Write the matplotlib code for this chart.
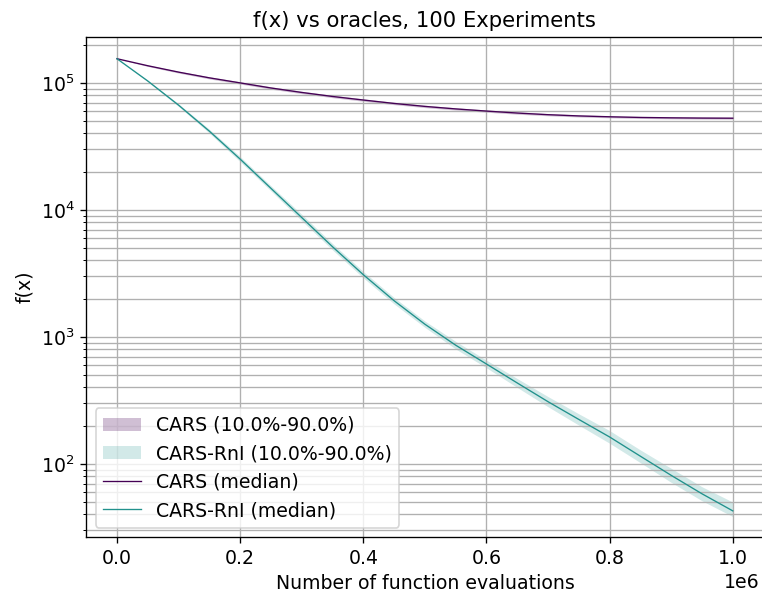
import numpy as np
import matplotlib
matplotlib.use('Agg')
import matplotlib.pyplot as plt

# function evaluations (sampled every 50k)
evals = [0, 50000, 100000, 150000, 200000, 250000, 300000, 350000, 400000, 450000, 500000,
         550000, 600000, 650000, 700000, 750000, 800000, 850000, 900000, 950000, 1000000]

# CARS: median and 10/90 percentiles of f(x)
cars_med = [155000, 136500, 121600, 109600, 100000, 91200, 84100, 78200, 73300, 68900, 65300,
            62400, 60000, 57900, 56200, 54950, 54100, 53460, 53090, 52840, 52720]
cars_lo = [155000, 134800, 119500, 107500, 98000, 89300, 82300, 76500, 71700, 67400, 63900,
           61100, 58800, 56700, 55100, 53900, 53100, 52500, 52100, 51900, 51800]
cars_hi = [155000, 138200, 123600, 111700, 102000, 93100, 85900, 79900, 74900, 70400, 66700,
           63700, 61200, 59100, 57300, 56000, 55100, 54400, 54000, 53800, 53700]

# CARS-RnI: median and 10/90 percentiles of f(x)
rni_med = [155000, 103500, 66830, 41690, 25120, 14790, 8710, 5129, 3090, 1928, 1259,
           861, 612, 434, 309, 224, 163, 115, 81.3, 58.2, 42.7]
rni_lo = [155000, 102300, 65310, 40270, 23990, 14130, 8222, 4842, 2917, 1820, 1189,
          804, 571, 400, 282, 202, 145.5, 102.3, 71.6, 51.3, 38.5]
rni_hi = [155000, 104700, 68390, 43150, 26300, 15490, 9226, 5433, 3273, 2042, 1334,
          923, 656, 470, 339, 248, 183, 128.8, 92.3, 66.1, 50.1]

c_cars = plt.cm.viridis(0.0)
c_rni = plt.cm.viridis(0.5)

plt.rcParams['font.size'] = 11.3

fig = plt.figure(figsize=(762/120, 596/120), dpi=120)
ax = fig.add_axes([0.1131, 0.099, 0.889, 0.839])

ax.fill_between(evals, cars_lo, cars_hi, color=c_cars, alpha=0.25, linewidth=0,
                label='CARS (10.0%-90.0%)')
ax.fill_between(evals, rni_lo, rni_hi, color=c_rni, alpha=0.2, linewidth=0,
                label='CARS-RnI (10.0%-90.0%)')
ax.plot(evals, cars_med, color=c_cars, linewidth=0.8, label='CARS (median)')
ax.plot(evals, rni_med, color=c_rni, linewidth=0.8, label='CARS-RnI (median)')

ax.set_yscale('log')
ax.set_xlim(-50000, 1050000)
ax.set_ylim(26.6, 2.3e5)
ax.grid(True, which='both')
ax.set_xlabel('Number of function evaluations')
ax.set_ylabel('f(x)')
ax.set_title('f(x) vs oracles, 100 Experiments', fontsize=12.7)
ax.legend(loc='lower left')
ax.xaxis.get_offset_text().set_x(0.994)

fig.savefig('out.png', dpi=120)
